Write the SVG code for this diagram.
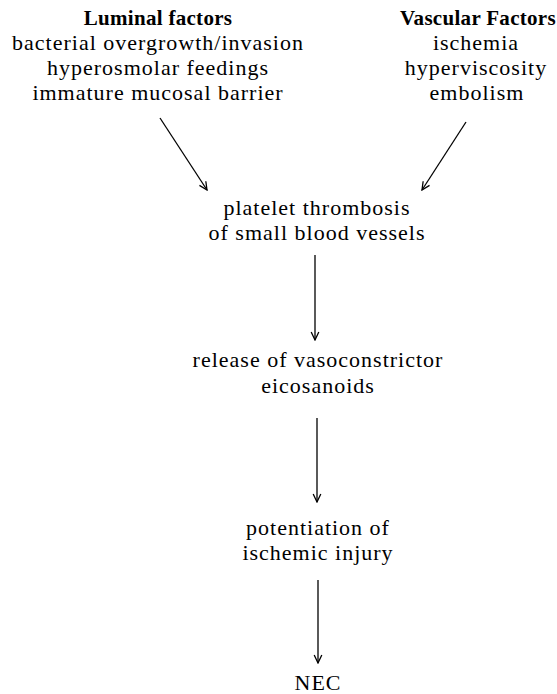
<svg xmlns="http://www.w3.org/2000/svg" width="557" height="694" viewBox="0 0 557 694">
<style>
text{font-family:"Liberation Serif","Times New Roman",serif;font-size:22px;letter-spacing:1px;fill:#000;text-anchor:middle}
.b{font-weight:bold;font-size:21px;letter-spacing:0.3px}
.c{stroke:#000;stroke-width:1.3;fill:none;marker-end:url(#a)}
</style>
<defs>
<marker id="a" markerWidth="10" markerHeight="10" refX="9" refY="5" orient="auto" markerUnits="userSpaceOnUse">
<path d="M1,1.2 L9,5 L1,8.8" fill="none" stroke="#000" stroke-width="1.3"/>
</marker>
</defs>
<rect width="557" height="694" fill="#fff"/>
<g id="luminal">
<text class="b" x="158" y="25">Luminal factors</text>
<text x="158" y="50">bacterial overgrowth/invasion</text>
<text x="158" y="75">hyperosmolar feedings</text>
<text x="158" y="100">immature mucosal barrier</text>
</g>
<g id="vascular">
<text class="b" x="478" y="25">Vascular Factors</text>
<text x="476" y="50">ischemia</text>
<text x="476" y="75">hyperviscosity</text>
<text x="477" y="100">embolism</text>
</g>
<g id="platelet">
<text x="317" y="215">platelet thrombosis</text>
<text x="317" y="240">of small blood vessels</text>
</g>
<g id="release">
<text x="318" y="367">release of vasoconstrictor</text>
<text x="318" y="393">eicosanoids</text>
</g>
<g id="potentiation">
<text x="318" y="535">potentiation of</text>
<text x="318" y="560">ischemic injury</text>
</g>
<g id="nec">
<text x="318" y="690">NEC</text>
</g>
<g id="connectors">
<line class="c" x1="160" y1="118" x2="207" y2="190"/>
<line class="c" x1="466" y1="122" x2="422" y2="190"/>
<line class="c" x1="315" y1="255" x2="315" y2="340"/>
<line class="c" x1="317" y1="418" x2="317" y2="502"/>
<line class="c" x1="318" y1="580" x2="318" y2="663"/>
</g>
</svg>
